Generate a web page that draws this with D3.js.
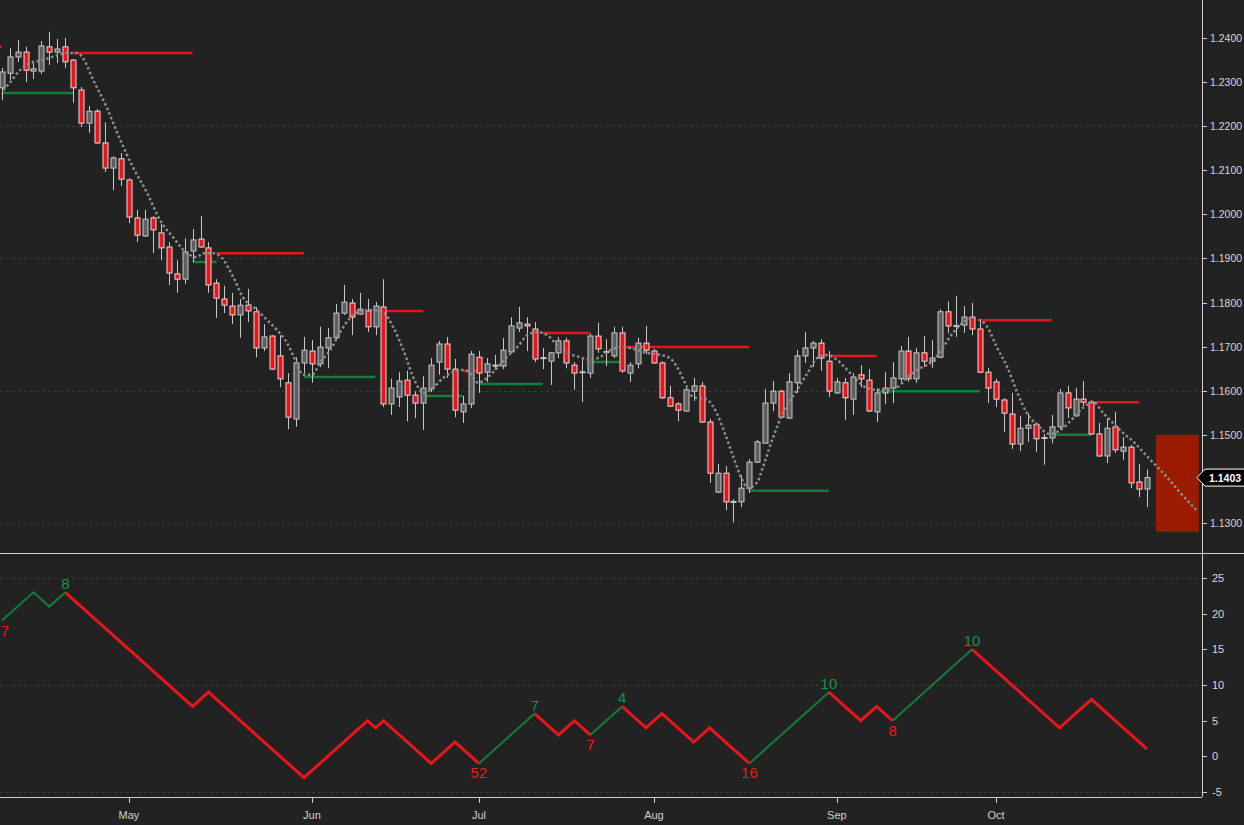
<!DOCTYPE html>
<html>
<head>
<meta charset="utf-8">
<script src="https://cdn.jsdelivr.net/npm/d3@7"></script>
<style>
  body { margin: 0; background: #222; }
  svg { display: block; }
  text { font-family: Arial, "Liberation Sans", sans-serif; }
</style>
</head>
<body>
<svg id="chart"></svg>
<script>
// daily candles, bar 0 = Apr 9, bar 144 = Oct 26
const opens = [
  1.2287,1.2320,1.2357,1.2368,1.2325,1.2325,1.2380,1.2368,1.2380,1.2350,
  1.2282,1.2207,1.2234,1.2162,1.2105,1.2126,1.2078,1.1992,1.1951,1.1992,
  1.1958,1.1926,1.1865,1.1853,1.1917,1.1944,1.1924,1.1844,1.1808,1.1792,
  1.1772,1.1794,1.1779,1.1697,1.1724,1.1679,1.1618,1.1536,1.1663,1.1690,
  1.1661,1.1697,1.1720,1.1776,1.1799,1.1774,1.1781,1.1745,1.1790,1.1570,
  1.1586,1.1624,1.1590,1.1572,1.1604,1.1665,1.1706,1.1649,1.1552,1.1570,
  1.1676,1.1642,1.1656,1.1656,1.1688,1.1742,1.1751,1.1740,1.1673,1.1667,
  1.1686,1.1713,1.1658,1.1641,1.1640,1.1724,1.1687,1.1679,1.1731,1.1640,
  1.1661,1.1708,1.1690,1.1663,1.1584,1.1570,1.1554,1.1599,1.1611,1.1529,
  1.1370,1.1413,1.1347,1.1348,1.1379,1.1438,1.1481,1.1572,1.1599,1.1538,
  1.1618,1.1679,1.1697,1.1708,1.1667,1.1595,1.1618,1.1581,1.1636,1.1624,
  1.1552,1.1595,1.1606,1.1627,1.1690,1.1627,1.1686,1.1667,1.1676,1.1779,
  1.1746,1.1749,1.1767,1.1740,1.1642,1.1620,1.1579,1.1547,1.1479,1.1515,
  1.1524,1.1492,1.1493,1.1518,1.1595,1.1543,1.1581,1.1574,1.1502,1.1452,
  1.1518,1.1463,1.1472,1.1393,1.1377
];
const highs = [
  1.2332,1.2377,1.2395,1.2380,1.2343,1.2393,1.2414,1.2398,1.2400,1.2352,
  1.2289,1.2246,1.2239,1.2209,1.2132,1.2139,1.2082,1.2010,1.2010,1.1996,
  1.1978,1.1937,1.1896,1.1946,1.1967,1.1996,1.1937,1.1853,1.1838,1.1822,
  1.1808,1.1831,1.1790,1.1751,1.1726,1.1726,1.1640,1.1676,1.1722,1.1715,
  1.1745,1.1742,1.1797,1.1840,1.1808,1.1822,1.1808,1.1801,1.1853,1.1627,
  1.1642,1.1645,1.1599,1.1633,1.1674,1.1713,1.1722,1.1672,1.1588,1.1690,
  1.1690,1.1674,1.1681,1.1720,1.1767,1.1790,1.1767,1.1756,1.1697,1.1688,
  1.1722,1.1720,1.1665,1.1674,1.1729,1.1754,1.1717,1.1745,1.1745,1.1665,
  1.1720,1.1747,1.1695,1.1667,1.1611,1.1574,1.1608,1.1629,1.1620,1.1536,
  1.1434,1.1429,1.1354,1.1409,1.1445,1.1488,1.1604,1.1622,1.1602,1.1640,
  1.1692,1.1733,1.1713,1.1717,1.1690,1.1629,1.1629,1.1640,1.1658,1.1649,
  1.1606,1.1642,1.1665,1.1701,1.1722,1.1697,1.1724,1.1715,1.1785,1.1803,
  1.1815,1.1792,1.1799,1.1758,1.1652,1.1627,1.1583,1.1595,1.1543,1.1549,
  1.1529,1.1502,1.1545,1.1604,1.1611,1.1606,1.1622,1.1579,1.1527,1.1538,
  1.1552,1.1495,1.1477,1.1434,1.1422
];
const lows = [
  1.2259,1.2305,1.2346,1.2300,1.2307,1.2318,1.2339,1.2343,1.2332,1.2253,
  1.2198,1.2185,1.2160,1.2096,1.2055,1.2064,1.1980,1.1937,1.1949,1.1912,
  1.1896,1.1840,1.1822,1.1842,1.1892,1.1924,1.1822,1.1765,1.1776,1.1751,
  1.1720,1.1756,1.1676,1.1690,1.1647,1.1608,1.1513,1.1518,1.1640,1.1618,
  1.1654,1.1651,1.1717,1.1772,1.1726,1.1772,1.1733,1.1726,1.1563,1.1545,
  1.1563,1.1531,1.1538,1.1511,1.1597,1.1636,1.1629,1.1540,1.1527,1.1561,
  1.1595,1.1620,1.1647,1.1649,1.1686,1.1733,1.1690,1.1665,1.1649,1.1613,
  1.1674,1.1651,1.1602,1.1574,1.1629,1.1686,1.1656,1.1674,1.1640,1.1620,
  1.1651,1.1683,1.1661,1.1581,1.1563,1.1531,1.1552,1.1577,1.1527,1.1391,
  1.1368,1.1329,1.1302,1.1336,1.1368,1.1436,1.1481,1.1554,1.1538,1.1536,
  1.1595,1.1663,1.1654,1.1645,1.1586,1.1593,1.1534,1.1545,1.1608,1.1552,
  1.1529,1.1570,1.1572,1.1620,1.1620,1.1618,1.1654,1.1652,1.1674,1.1731,
  1.1722,1.1731,1.1726,1.1640,1.1572,1.1563,1.1506,1.1468,1.1463,1.1484,
  1.1461,1.1432,1.1481,1.1511,1.1538,1.1540,1.1565,1.1500,1.1450,1.1436,
  1.1459,1.1443,1.1379,1.1359,1.1336
];
const closes = [
  1.2323,1.2357,1.2368,1.2327,1.2330,1.2382,1.2368,1.2375,1.2346,1.2287,
  1.2207,1.2234,1.2162,1.2105,1.2128,1.2080,1.1994,1.1953,1.1989,1.1965,
  1.1924,1.1867,1.1853,1.1915,1.1942,1.1926,1.1840,1.1810,1.1794,1.1772,
  1.1794,1.1781,1.1697,1.1722,1.1649,1.1627,1.1540,1.1663,1.1692,1.1661,
  1.1699,1.1720,1.1776,1.1801,1.1767,1.1785,1.1745,1.1792,1.1570,1.1606,
  1.1622,1.1590,1.1572,1.1606,1.1658,1.1706,1.1649,1.1556,1.1570,1.1683,
  1.1640,1.1661,1.1658,1.1692,1.1747,1.1754,1.1747,1.1672,1.1675,1.1686,
  1.1713,1.1663,1.1640,1.1643,1.1724,1.1695,1.1689,1.1731,1.1645,1.1658,
  1.1708,1.1692,1.1663,1.1584,1.1565,1.1556,1.1602,1.1611,1.1529,1.1413,
  1.1413,1.1348,1.1349,1.1379,1.1438,1.1484,1.1572,1.1599,1.1540,1.1620,
  1.1679,1.1697,1.1708,1.1674,1.1599,1.1620,1.1584,1.1631,1.1627,1.1554,
  1.1595,1.1606,1.1629,1.1690,1.1627,1.1686,1.1667,1.1674,1.1779,1.1747,
  1.1748,1.1767,1.1740,1.1642,1.1606,1.1581,1.1549,1.1479,1.1515,1.1522,
  1.1491,1.1494,1.1518,1.1595,1.1561,1.1581,1.1574,1.1502,1.1452,1.1515,
  1.1466,1.1472,1.1391,1.1377,1.1403
];

// month labels sit on the first bar of each month
const monthLabels = ["May", "Jun", "Jul", "Aug", "Sep", "Oct"];
const monthBars = [16, 39, 60, 82, 105, 125];

// displaced moving average (dotted), runs past the last bar
const maBar = [0.2,1,2.3,3.6,5.2,7,8.2,9.5,10.2,11.5,13.2,14.9,16.5,18.3,19.9,21.5,23.3,24.6,25.3,26.6,
  27.7,29.1,30.3,32.1,33.4,34.6,35.9,36.9,37.9,39,40,41.3,42.5,43.8,45.1,46.7,47.9,49.2,50.5,52,
  53,54.2,55.5,56.7,58,58.9,59.9,61,62.3,63.5,64.8,66.1,67.3,68.6,69.8,71.1,72.7,74,75.2,76.5,
  78.1,79.9,81.1,82.8,84,84.9,85.9,86.9,88.7,89.9,90.9,91.9,93.1,93.8,95,95.7,97,98.2,100,101.3,
  102.5,103.8,105,106.3,107.5,108.8,110.1,111.3,112.6,113.8,115.1,116.7,118,119.2,120.5,121.8,123,123.9,125.1,126.4,
  127.7,128.9,130.2,131.8,133.4,134.7,135.9,137.2,138.5,139.7,141,142.3,143.5,144.8,146.5,148.2,150.2];
const maValue = [1.2282,1.2298,1.2327,1.2343,1.2350,1.2361,1.2366,1.2366,1.2355,1.2305,1.2243,1.2169,1.2107,1.2048,1.1987,1.1949,1.1912,1.1903,1.1912,1.1912,
  1.1901,1.1858,1.1813,1.1783,1.1760,1.1738,1.1708,1.1670,1.1636,1.1636,1.1663,1.1692,1.1731,1.1765,1.1781,1.1783,1.1779,1.1745,1.1692,1.1620,
  1.1595,1.1606,1.1629,1.1642,1.1647,1.1640,1.1618,1.1629,1.1652,1.1676,1.1699,1.1726,1.1733,1.1726,1.1704,1.1686,1.1676,1.1670,1.1676,1.1692,
  1.1699,1.1692,1.1686,1.1681,1.1674,1.1654,1.1618,1.1586,1.1579,1.1549,1.1504,1.1454,1.1398,1.1379,1.1393,1.1427,1.1495,1.1549,1.1602,1.1640,
  1.1674,1.1681,1.1670,1.1647,1.1624,1.1606,1.1602,1.1604,1.1608,1.1629,1.1647,1.1663,1.1688,1.1722,1.1749,1.1763,1.1760,1.1745,1.1699,1.1654,
  1.1595,1.1549,1.1522,1.1502,1.1515,1.1538,1.1561,1.1574,1.1549,1.1527,1.1504,1.1484,1.1461,1.1436,1.1404,1.1368,1.1329];

// resistance (red) / support (green) levels
const levelFrom  = [-1, 0, 9, 24, 27, 38, 47, 53, 58, 60, 68, 74, 78, 94, 104, 110, 123, 132, 137];
const levelTo    = [0, 9, 24, 27, 38, 47, 53, 58, 60, 68, 74, 78, 94, 104, 110, 123, 132, 137, 143];
const levelPrice = [1.2380, 1.2275, 1.2366, 1.1892, 1.1912, 1.1631, 1.1781, 1.1588, 1.1645, 1.1615,
                    1.1731, 1.1665, 1.1699, 1.1373, 1.1679, 1.1599, 1.1760, 1.1500, 1.1574];
const levelKind  = ["res","sup","res","sup","res","sup","res","sup","res","sup",
                    "res","sup","res","sup","res","sup","res","sup","res"];

// projected zone after the last bar
const zoneFrom = 145.1, zoneTo = 150.5, zoneHigh = 1.1500, zoneLow = 1.1280;

const priceTicks = [1.13, 1.14, 1.15, 1.16, 1.17, 1.18, 1.19, 1.20, 1.21, 1.22, 1.23, 1.24];
const priceGrid = [1.13, 1.16, 1.19, 1.22];

// lower panel: count line turning points
const pivotBar = [0, 4, 6, 8, 24, 26, 38, 46, 47, 48, 54, 57, 60, 67, 70, 72, 74, 78, 81, 83, 87, 89, 94, 104, 108, 110, 112, 122, 133, 137, 144];
const pivotVal = [19, 23, 21, 23, 7, 9, -3, 5, 4, 5, -1, 2, -1, 6, 3, 5, 3, 7, 4, 6, 2, 4, -1, 9, 5, 7, 5, 15, 4, 8, 1];
const swingBar  = [0, 8, 60, 67, 74, 78, 94, 104, 112, 122];
const swingText = ["7", "8", "52", "7", "7", "4", "16", "10", "8", "10"];
const swingKind = ["low", "high", "low", "high", "low", "high", "low", "high", "low", "high"];
const oscTicks = [-5, 0, 5, 10, 15, 20, 25];
const oscGrid = [-5, 10, 25];

const W = 1244, H = 825;
const axisX = 1202, panelSplit = 553, bottomAxis = 797;
const upColor = "#0e7f3c", downColor = "#e8161b";

const svg = d3.select("#chart").attr("width", W).attr("height", H);
svg.append("rect").attr("width", W).attr("height", H).attr("fill", "#222");

const x = d3.scaleLinear().domain([-0.21, 150.9]).range([0, axisX]);
const y = d3.scaleLinear().domain([1.13, 1.24]).range([523, 38]);
const yOsc = d3.scaleLinear().domain([-5, 25]).range([792, 578]);

const defs = svg.append("defs");
defs.append("clipPath").attr("id", "clipTop")
  .append("rect").attr("width", axisX).attr("height", panelSplit);
defs.append("clipPath").attr("id", "clipBottom")
  .append("rect").attr("y", panelSplit).attr("width", axisX).attr("height", bottomAxis - panelSplit);

const pricePanel = svg.append("g").attr("clip-path", "url(#clipTop)");
const oscPanel = svg.append("g").attr("clip-path", "url(#clipBottom)");

// grid
pricePanel.selectAll(".grid").data(priceGrid).join("line")
  .attr("x1", 0).attr("x2", axisX)
  .attr("y1", d => Math.round(y(d)) + 0.5).attr("y2", d => Math.round(y(d)) + 0.5)
  .attr("stroke", "#3a3a3a").attr("stroke-dasharray", "3,3");
oscPanel.selectAll(".grid").data(oscGrid).join("line")
  .attr("x1", 0).attr("x2", axisX)
  .attr("y1", d => Math.round(yOsc(d)) + 0.5).attr("y2", d => Math.round(yOsc(d)) + 0.5)
  .attr("stroke", "#3a3a3a").attr("stroke-dasharray", "3,3");

// projected zone
pricePanel.append("rect")
  .attr("x", x(zoneFrom)).attr("width", x(zoneTo) - x(zoneFrom))
  .attr("y", y(zoneHigh)).attr("height", y(zoneLow) - y(zoneHigh))
  .attr("fill", "#9b1b00");

// levels
const levels = levelFrom.map((f, i) => ({ from: f, to: levelTo[i], price: levelPrice[i], kind: levelKind[i] }));
pricePanel.selectAll(".level").data(levels).join("line")
  .attr("x1", d => x(d.from)).attr("x2", d => x(d.to))
  .attr("y1", d => y(d.price)).attr("y2", d => y(d.price))
  .attr("stroke", d => d.kind === "res" ? "#e3161b" : upColor)
  .attr("stroke-width", 2.5);

// candles
const bars = opens.map((o, i) => ({ i, o, h: highs[i], l: lows[i], c: closes[i] }));
const candle = pricePanel.selectAll(".candle").data(bars).join("g");
candle.append("line")
  .attr("x1", d => Math.round(x(d.i)) + 0.5).attr("x2", d => Math.round(x(d.i)) + 0.5)
  .attr("y1", d => y(d.h)).attr("y2", d => y(d.l))
  .attr("stroke", "#c8c8c8").attr("stroke-width", 1);
candle.append("rect")
  .attr("x", d => Math.round(x(d.i)) - 2)
  .attr("width", 5)
  .attr("y", d => y(Math.max(d.o, d.c)))
  .attr("height", d => Math.max(1, Math.abs(y(d.o) - y(d.c))))
  .attr("fill", d => d.c >= d.o ? "#5e5e5e" : downColor)
  .attr("stroke", d => d.c >= d.o ? "#c8c8c8" : "#f0d8d8")
  .attr("stroke-width", 1);

// dotted moving average
const ma = maBar.map((b, i) => [b, maValue[i]]);
pricePanel.append("path")
  .attr("d", d3.line().x(d => x(d[0])).y(d => y(d[1])).curve(d3.curveMonotoneX)(ma))
  .attr("fill", "none").attr("stroke", "#8e8e8e").attr("stroke-width", 2.5)
  .attr("stroke-dasharray", "2.5,2.5");

// lower panel count line, coloured by swing
const pivots = pivotBar.map((b, i) => ({ b, v: pivotVal[i] }));
const oscLine = d3.line().x(d => x(d.b)).y(d => yOsc(d.v));
const swingEdges = swingBar.concat([pivotBar[pivotBar.length - 1]]);
for (let k = 0; k < swingEdges.length - 1; k++) {
  const seg = pivots.filter(p => p.b >= swingEdges[k] && p.b <= swingEdges[k + 1]);
  const rising = swingKind[k] === "low";
  oscPanel.append("path")
    .attr("d", oscLine(seg))
    .attr("fill", "none")
    .attr("stroke", rising ? upColor : downColor)
    .attr("stroke-width", rising ? 2 : 3)
    .attr("stroke-linejoin", "miter");
}
const swings = swingBar.map((b, i) => ({ b, t: swingText[i], k: swingKind[i], v: pivotVal[pivotBar.indexOf(b)] }));
oscPanel.selectAll(".swing").data(swings).join("text")
  .attr("x", d => Math.max(x(d.b), 5))
  .attr("y", d => d.k === "high" ? yOsc(d.v) - 3 : yOsc(d.v) + 15)
  .attr("text-anchor", "middle")
  .attr("font-size", 15)
  .attr("fill", d => d.k === "high" ? "#139447" : "#f01a1a")
  .text(d => d.t);

// frame
svg.append("line").attr("x1", 0).attr("x2", W).attr("y1", panelSplit + 0.5).attr("y2", panelSplit + 0.5)
  .attr("stroke", "#cfcfcf");
svg.append("line").attr("x1", 0).attr("x2", axisX).attr("y1", bottomAxis + 0.5).attr("y2", bottomAxis + 0.5)
  .attr("stroke", "#cfcfcf");
svg.append("line").attr("x1", axisX + 0.5).attr("x2", axisX + 0.5).attr("y1", 0).attr("y2", bottomAxis)
  .attr("stroke", "#cfcfcf");

// right price axis
const pAxis = svg.append("g");
pAxis.selectAll("line").data(priceTicks).join("line")
  .attr("x1", axisX).attr("x2", axisX + 5)
  .attr("y1", d => Math.round(y(d)) + 0.5).attr("y2", d => Math.round(y(d)) + 0.5)
  .attr("stroke", "#cfcfcf");
pAxis.selectAll("text").data(priceTicks).join("text")
  .attr("x", axisX + 8).attr("y", d => y(d) + 4)
  .attr("font-size", 10.5).attr("fill", "#d8d8d8")
  .text(d => d3.format(".4f")(d));

const oAxis = svg.append("g");
oAxis.selectAll("line").data(oscTicks).join("line")
  .attr("x1", axisX).attr("x2", axisX + 5)
  .attr("y1", d => Math.round(yOsc(d)) + 0.5).attr("y2", d => Math.round(yOsc(d)) + 0.5)
  .attr("stroke", "#cfcfcf");
oAxis.selectAll("text").data(oscTicks).join("text")
  .attr("x", axisX + 10).attr("y", d => yOsc(d) + 4)
  .attr("font-size", 11).attr("fill", "#d8d8d8")
  .text(d => d);

// month axis
const mAxis = svg.append("g");
mAxis.selectAll("line").data(monthBars).join("line")
  .attr("x1", d => Math.round(x(d)) + 0.5).attr("x2", d => Math.round(x(d)) + 0.5)
  .attr("y1", bottomAxis).attr("y2", bottomAxis + 6)
  .attr("stroke", "#cfcfcf");
mAxis.selectAll("text").data(monthLabels).join("text")
  .attr("x", (d, i) => x(monthBars[i])).attr("y", 819)
  .attr("text-anchor", "middle")
  .attr("font-size", 11).attr("fill", "#d0d0d0")
  .text(d => d);

// last price tag
const last = closes[closes.length - 1];
const ly = y(last);
svg.append("path")
  .attr("d", `M${axisX - 5},${ly} L${axisX + 3},${ly - 8.5} L${W + 2},${ly - 8.5} L${W + 2},${ly + 8.5} L${axisX + 3},${ly + 8.5} Z`)
  .attr("fill", "#000").attr("stroke", "#fff").attr("stroke-width", 1);
svg.append("text")
  .attr("x", axisX + 7).attr("y", ly + 4)
  .attr("font-size", 10.5).attr("font-weight", "bold").attr("fill", "#fff")
  .text(d3.format(".4f")(last));
</script>
</body>
</html>
